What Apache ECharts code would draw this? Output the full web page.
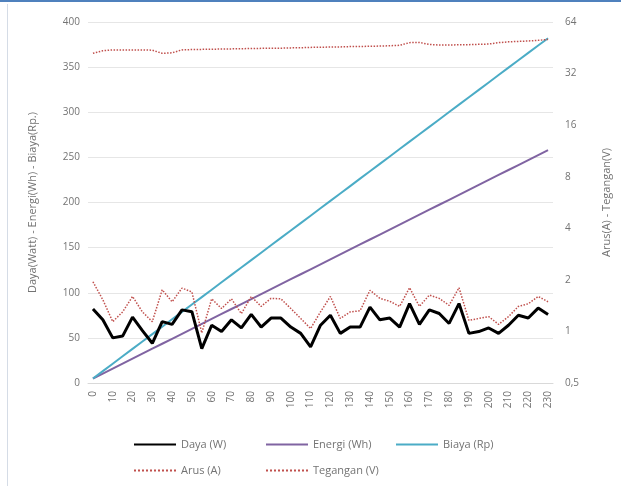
<!DOCTYPE html>
<html>
<head>
<meta charset="utf-8">
<script src="https://cdn.jsdelivr.net/npm/echarts@6/dist/echarts.min.js"></script>
<style>
  html, body { margin: 0; padding: 0; background: #ffffff; }
  #chart { width: 621px; height: 486px; }
</style>
</head>
<body>
<div id="chart"></div>
<script>
// Time (minutes) on the category axis
const menit = [0,5,10,15,20,25,30,35,40,45,50,55,60,65,70,75,80,85,90,95,100,105,110,115,120,125,130,135,140,145,150,155,160,165,170,175,180,185,190,195,200,205,210,215,220,225,230];

// Left axis series
const daya = [82,70,50,52,73,58,44,68,65,81,79,38,64,57,70,61,76,62,72,72,62,55,40,64,75,55,62,62,84,70,72,62,88,65,81,77,66,88,55,57,61,55,64,75,72,83,76];
const energi = [5,10.5,16,21.5,27,32.5,38,43.5,49,54.5,60,65.5,71,76.5,82,87.5,93,98.5,104,109.5,115,120.5,126,131.5,137,142.5,148,153.5,159,164.5,170,175.5,181,186.5,192,197.5,203,208.5,214,219.5,225,230.5,236,241.5,247,252.5,258];
const biaya = [5,13.2,21.4,29.6,37.8,46,54.2,62.4,70.6,78.8,87,95.2,103.4,111.6,119.8,128,136.2,144.4,152.6,160.8,169,177.2,185.4,193.6,201.8,210,218.2,226.4,234.6,242.8,251,259.2,267.4,275.6,283.8,292,300.2,308.4,316.6,324.8,333,341.2,349.4,357.6,365.8,374,382];

// Right (log2) axis series
const arus = [1.95,1.53,1.14,1.3,1.6,1.3,1.14,1.75,1.49,1.79,1.7,0.98,1.55,1.36,1.55,1.27,1.6,1.4,1.56,1.55,1.36,1.19,1.04,1.3,1.6,1.19,1.3,1.32,1.74,1.56,1.5,1.4,1.8,1.4,1.63,1.56,1.42,1.8,1.16,1.19,1.22,1.1,1.22,1.4,1.45,1.6,1.49];
const tegangan = [42,43.5,44,44,44,44,43.8,42,42.3,44,44.2,44.3,44.4,44.5,44.6,44.7,44.8,44.9,45,45,45.2,45.3,45.5,45.6,45.7,45.8,46,46,46.2,46.3,46.5,46.8,48.5,48.6,47.3,47,47,47.1,47.2,47.4,47.6,48.5,49,49.3,49.6,50,50.6];

const FONT = '"Open Sans", "Liberation Sans", sans-serif';
const TXT = '#737373';

const chart = echarts.init(document.getElementById('chart'), null, { renderer: 'canvas' });

function legendAt(name, left, top) {
  return {
    data: [name], left: left, top: top,
    itemWidth: 42, itemHeight: 10, itemGap: 4,
    itemStyle: { opacity: 0 },
    textStyle: { fontFamily: FONT, fontSize: 11, color: TXT },
    selectedMode: false
  };
}

const option = {
  backgroundColor: '#ffffff',
  animation: false,
  grid: { left: 88, right: 68, top: 22, bottom: 103, containLabel: false },
  graphic: [
    { type: 'rect', left: 0, top: 0, shape: { width: 621, height: 2 }, style: { fill: '#4f81bd' } },
    { type: 'rect', left: 7, top: 4, shape: { width: 1, height: 482 }, style: { fill: '#d5dce6' } }
  ],
  legend: [
    legendAt('Daya (W)', 128, 434),
    legendAt('Energi (Wh)', 260, 434),
    legendAt('Biaya (Rp)', 390, 434),
    legendAt('Arus (A)', 128, 460),
    legendAt('Tegangan (V)', 260, 460)
  ],
  xAxis: {
    type: 'category',
    data: menit,
    boundaryGap: true,
    axisLine: { lineStyle: { color: '#d9d9d9' } },
    axisTick: { show: false },
    axisLabel: { interval: 1, rotate: 90, fontFamily: FONT, fontSize: 10, color: TXT, margin: 8 }
  },
  yAxis: [
    {
      type: 'value', min: 0, max: 400, interval: 50,
      name: 'Daya(Watt) - Energi(Wh) - Biaya(Rp.)',
      nameLocation: 'middle', nameGap: 50,
      nameTextStyle: { fontFamily: FONT, fontSize: 11, color: TXT },
      axisLine: { show: false }, axisTick: { show: false },
      axisLabel: { fontFamily: FONT, fontSize: 10, color: TXT, margin: 8 },
      splitLine: { lineStyle: { color: '#e6e6e6' } }
    },
    {
      type: 'log', logBase: 2, min: 0.5, max: 64, interval: 1,
      name: 'Arus(A) - Tegangan(V)',
      nameLocation: 'middle', nameGap: 48,
      nameTextStyle: { fontFamily: FONT, fontSize: 11, color: TXT },
      axisLine: { show: false }, axisTick: { show: false },
      axisLabel: {
        fontFamily: FONT, fontSize: 10, color: TXT, margin: 12,
        formatter: v => String(v).replace('.', ',')
      },
      splitLine: { show: false }
    }
  ],
  series: [
    { name: 'Daya (W)', type: 'line', data: daya, yAxisIndex: 0, symbol: 'none',
      lineStyle: { color: '#000000', width: 3 }, itemStyle: { color: '#000000' }, z: 5 },
    { name: 'Energi (Wh)', type: 'line', data: energi, yAxisIndex: 0, symbol: 'none',
      lineStyle: { color: '#8064a2', width: 2 }, itemStyle: { color: '#8064a2' } },
    { name: 'Biaya (Rp)', type: 'line', data: biaya, yAxisIndex: 0, symbol: 'none',
      lineStyle: { color: '#4bacc6', width: 2 }, itemStyle: { color: '#4bacc6' } },
    { name: 'Arus (A)', type: 'line', data: arus, yAxisIndex: 1, symbol: 'none',
      lineStyle: { color: '#c0504d', width: 1.5, type: 'dotted' }, itemStyle: { color: '#c0504d' } },
    { name: 'Tegangan (V)', type: 'line', data: tegangan, yAxisIndex: 1, symbol: 'none',
      lineStyle: { color: '#c0504d', width: 1.5, type: 'dotted' }, itemStyle: { color: '#c0504d' } }
  ]
};

chart.setOption(option);
</script>
</body>
</html>
